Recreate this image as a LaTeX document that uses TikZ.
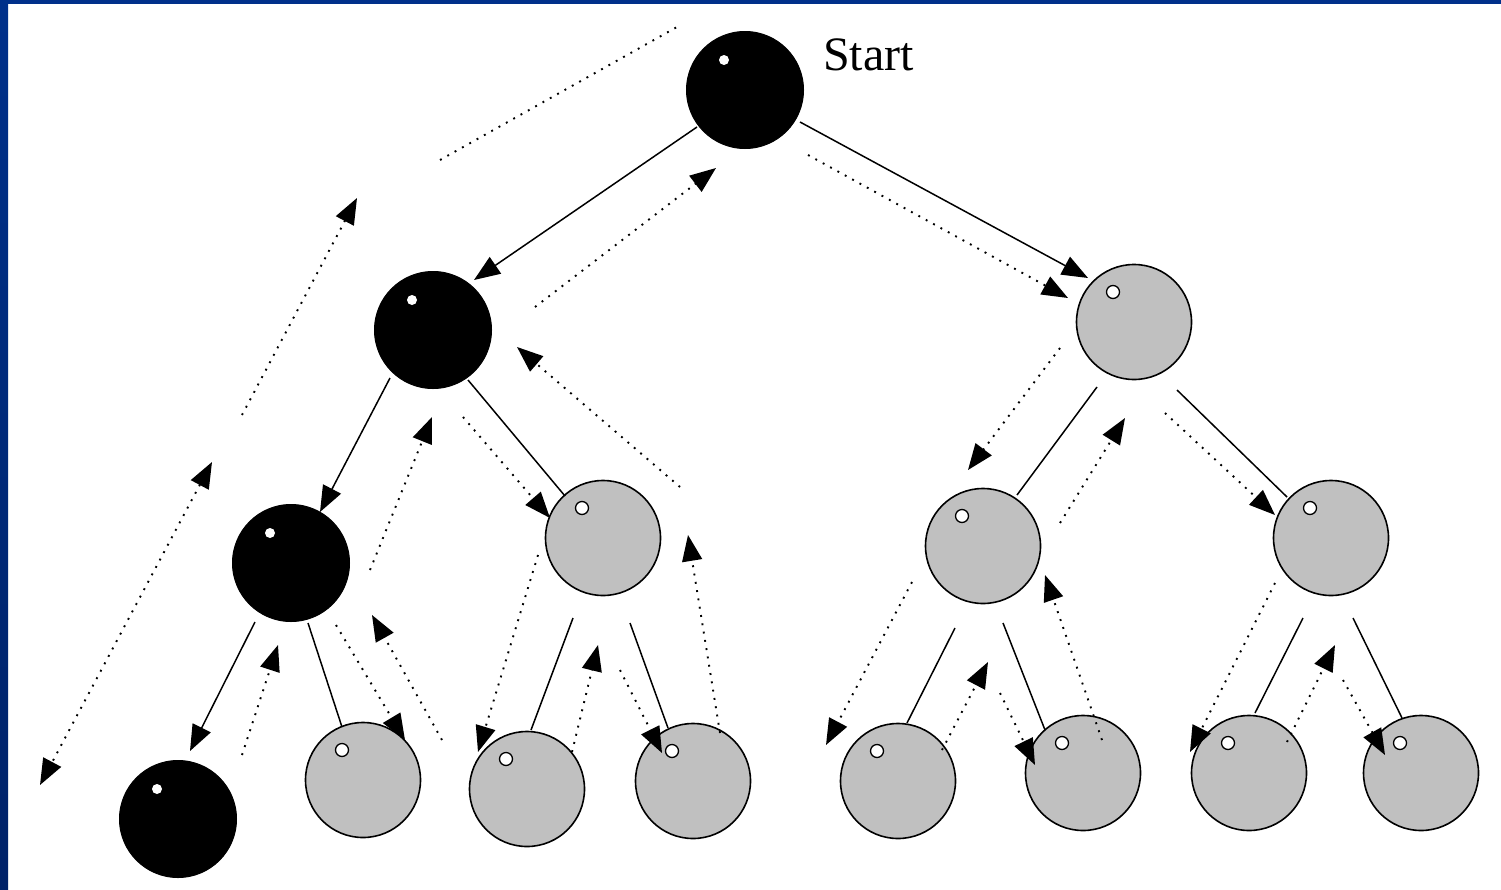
\documentclass[tikz,border=0pt]{standalone}
\usepackage{fontspec}
\setmainfont{Liberation Serif}
\usetikzlibrary{arrows.meta}
\definecolor{frameblue}{RGB}{0,48,138}
\definecolor{framedark}{RGB}{0,34,104}
\definecolor{ballgray}{RGB}{192,192,192}
\begin{document}
\begin{tikzpicture}[x=1pt,y=-1pt,
  bball/.style={circle,fill=black,draw=black,line width=1pt,minimum size=117pt,inner sep=0pt},
  gball/.style={circle,fill=ballgray,draw=black,line width=1.6pt,minimum size=115pt,inner sep=0pt},
  edge/.style={line width=1.5pt},
  back/.style={line width=1.9pt,dash pattern=on 1.9pt off 6.5pt},
  tip/.style={-{Triangle[length=26pt,width=20pt]}},
  twotip/.style={{Triangle[length=26pt,width=20pt]}-{Triangle[length=26pt,width=20pt]}},
  ]
\useasboundingbox (0,0) rectangle (1501,889);
\fill[white] (0,0) rectangle (1501,889);
\shade[top color=frameblue,bottom color=framedark] (0,0) rectangle (8,889);
\fill[frameblue] (0,0) rectangle (1501,4);

% nodes
\node[bball] (s) at (745,90) {};
\node[bball] (a) at (433,330) {};
\node[gball] (b) at (1134,322) {};
\node[bball] (c) at (291,563) {};
\node[gball] (d) at (603,538) {};
\node[gball] (e) at (983,546) {};
\node[gball] (f) at (1331,538) {};
\node[bball] (g) at (178,819) {};
\node[gball] (h) at (363,780) {};
\node[gball] (i) at (527,789) {};
\node[gball] (j) at (693,781) {};
\node[gball] (k) at (898,781) {};
\node[gball] (l) at (1083,773) {};
\node[gball] (m) at (1249,773) {};
\node[gball] (n) at (1421,773) {};

% highlights
\foreach \nn in {s,a,c,g} \fill[white] ([shift={(-21,-30)}]\nn.center) circle (5pt);
\foreach \nn in {b,d,e,f,h,i,j,k,l,m,n}
  \filldraw[fill=white,draw=black,line width=1.3pt] ([shift={(-21,-30)}]\nn.center) circle (6.5pt);

\node[anchor=base west,inner sep=0pt,font=\fontsize{48}{50}\selectfont] (lbl) at (823,70) {Start};

% solid edges
\draw[edge,tip] ([shift={(-48,37)}]s.center) -- ([shift={(41,-50)}]a.center);
\draw[edge,tip] ([shift={(55,32)}]s.center) -- ([shift={(-46,-44)}]b.center);
\draw[edge,tip] ([shift={(-43,48)}]a.center) -- ([shift={(29,-51)}]c.center);
\draw[edge] ([shift={(35,50)}]a.center) -- ([shift={(-38,-42)}]d.center);
\draw[edge,tip] ([shift={(-36,59)}]c.center) -- ([shift={(12,-68)}]g.center);
\draw[edge] ([shift={(17,60)}]c.center) -- ([shift={(-21,-53)}]h.center);
\draw[edge] ([shift={(-30,80)}]d.center) -- ([shift={(4,-59)}]i.center);
\draw[edge] ([shift={(27,85)}]d.center) -- ([shift={(-25,-53)}]j.center);
\draw[edge] ([shift={(-37,65)}]b.center) -- ([shift={(34,-51)}]e.center);
\draw[edge] ([shift={(43,68)}]b.center) -- ([shift={(-44,-41)}]f.center);
\draw[edge] ([shift={(-28,82)}]e.center) -- ([shift={(9,-58)}]k.center);
\draw[edge] ([shift={(20,77)}]e.center) -- ([shift={(-38,-43)}]l.center);
\draw[edge] ([shift={(-28,80)}]f.center) -- ([shift={(6,-60)}]m.center);
\draw[edge] ([shift={(22,80)}]f.center) -- ([shift={(-19,-55)}]n.center);

% dotted traversal lines
\draw[back] ([shift={(7,-170)}]a.center) -- ([shift={(-68,-63)}]s.center);
\draw[back,tip] ([shift={(-49,-148)}]c.center) -- ([shift={(-76,-132)}]a.center);
\draw[back,twotip] ([shift={(-79,-101)}]c.center) -- ([shift={(-138,-34)}]g.center);
\draw[back,tip] ([shift={(102,-23)}]a.center) -- ([shift={(-29,78)}]s.center);
\draw[back,tip] ([shift={(63,65)}]s.center) -- ([shift={(-66,-24)}]b.center);
\draw[back,tip] ([shift={(30,87)}]a.center) -- ([shift={(-53,-20)}]d.center);
\draw[back,tip] ([shift={(77,-51)}]d.center) -- ([shift={(84,17)}]a.center);
\draw[back,tip] ([shift={(79,7)}]c.center) -- ([shift={(-1,87)}]a.center);
\draw[back,tip] ([shift={(64,-64)}]g.center) -- ([shift={(-13,82)}]c.center);
\draw[back,tip] ([shift={(45,62)}]c.center) -- ([shift={(42,-40)}]h.center);
\draw[back,tip] ([shift={(79,-40)}]h.center) -- ([shift={(81,52)}]c.center);
\draw[back,tip] ([shift={(-65,17)}]d.center) -- ([shift={(-49,-37)}]i.center);
\draw[back,tip] ([shift={(45,-37)}]i.center) -- ([shift={(-5,107)}]d.center);
\draw[back,tip] ([shift={(17,132)}]d.center) -- ([shift={(-31,-28)}]j.center);
\draw[back,tip] ([shift={(27,-48)}]j.center) -- ([shift={(85,-3)}]d.center);
\draw[back,tip] ([shift={(-74,26)}]b.center) -- ([shift={(-15,-76)}]e.center);
\draw[back,tip] ([shift={(77,-23)}]e.center) -- ([shift={(-9,96)}]b.center);
\draw[back,tip] ([shift={(31,91)}]b.center) -- ([shift={(-56,-23)}]f.center);
\draw[back,tip] ([shift={(-71,36)}]e.center) -- ([shift={(-72,-36)}]k.center);
\draw[back,tip] ([shift={(44,-31)}]k.center) -- ([shift={(5,116)}]e.center);
\draw[back,tip] ([shift={(17,147)}]e.center) -- ([shift={(-48,-8)}]l.center);
\draw[back,tip] ([shift={(19,-33)}]l.center) -- ([shift={(62,29)}]e.center);
\draw[back,tip] ([shift={(-56,45)}]f.center) -- ([shift={(-59,-21)}]m.center);
\draw[back,tip] ([shift={(38,-31)}]m.center) -- ([shift={(4,107)}]f.center);
\draw[back,tip] ([shift={(12,142)}]f.center) -- ([shift={(-36,-18)}]n.center);
\end{tikzpicture}
\end{document}
